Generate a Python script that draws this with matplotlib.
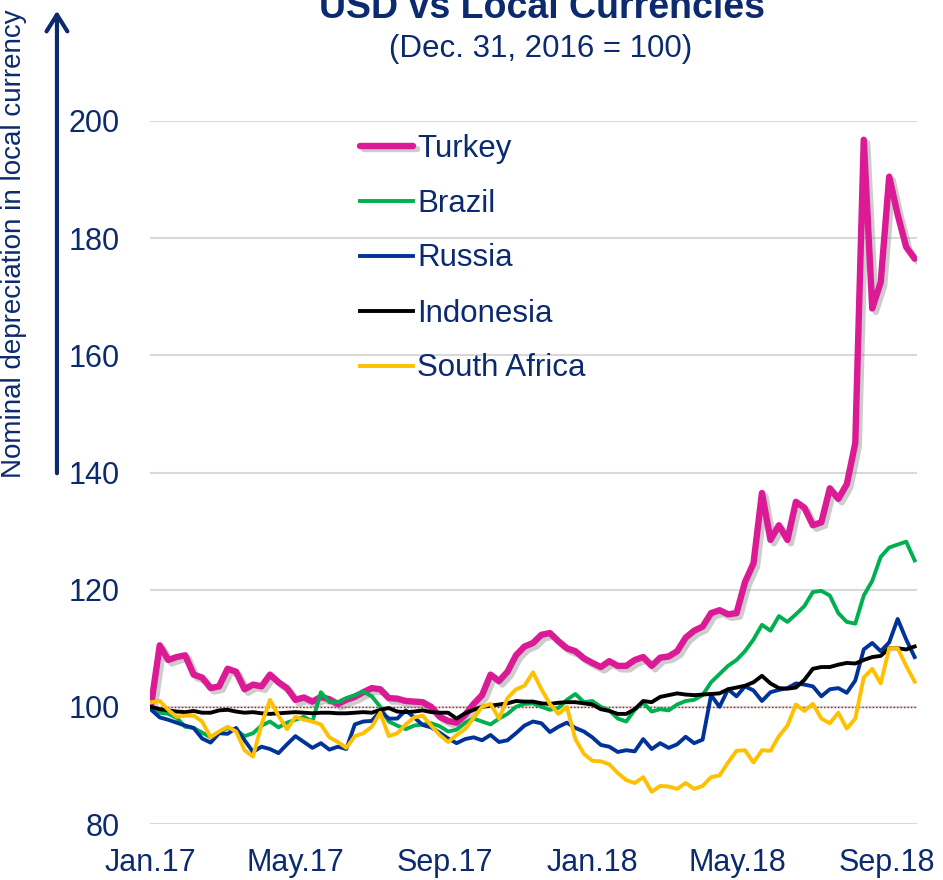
import matplotlib
matplotlib.use("Agg")
import matplotlib.pyplot as plt
import matplotlib.patheffects as pe
import pandas as pd

plt.rcParams['font.family'] = ['Liberation Sans', 'DejaVu Sans']

# weekly observations, Jan 2 2017 .. Sep 24 2018 (Dec. 31, 2016 = 100)
dates = pd.date_range("2017-01-02", periods=91, freq="7D")

turkey = [100.5, 110.5, 108.0, 108.5, 108.8, 105.5, 105.0, 103.2, 103.5, 106.5,
          106.0, 103.0, 103.8, 103.5, 105.5, 104.2, 103.2, 101.2, 101.6, 100.9,
          101.7, 101.3, 100.5, 101.2, 101.7, 102.5, 103.2, 103.0, 101.5, 101.4,
          101.0, 100.9, 100.8, 100.0, 98.3, 97.6, 97.3, 98.6, 100.5, 102.0,
          105.5, 104.4, 106.0, 108.8, 110.3, 110.9, 112.3, 112.6, 111.2, 110.0,
          109.5, 108.3, 107.5, 106.8, 107.8, 107.0, 107.0, 108.0, 108.5, 107.0,
          108.4, 108.6, 109.5, 111.8, 113.0, 113.7, 116.0, 116.5, 115.8, 116.0,
          121.3, 124.5, 136.5, 128.5, 131.0, 128.5, 135.0, 134.0, 131.0, 131.5,
          137.3, 135.5, 138.0, 145.0, 196.8, 168.0, 172.5, 190.5, 184.0, 178.5,
          176.5]
brazil = [100.0, 99.0, 98.8, 98.1, 96.6, 96.4, 95.6, 94.8, 95.7, 96.4,
          96.0, 95.0, 95.5, 96.8, 97.5, 96.5, 97.3, 97.8, 98.3, 97.5,
          102.5, 100.8, 100.8, 101.5, 102.0, 102.6, 101.8, 100.0, 97.5, 96.8,
          96.2, 96.8, 97.0, 97.2, 96.7, 95.8, 96.1, 97.3, 98.0, 97.5,
          97.0, 98.0, 98.8, 100.0, 100.5, 100.6, 100.0, 99.5, 99.8, 101.2,
          102.2, 100.8, 101.0, 100.0, 99.4, 98.0, 97.5, 99.5, 100.7, 99.2,
          99.6, 99.4, 100.4, 101.0, 101.2, 102.0, 104.2, 105.6, 107.0, 108.0,
          109.5, 111.5, 114.0, 113.0, 115.5, 114.5, 115.8, 117.2, 119.6, 119.8,
          119.0, 116.0, 114.5, 114.2, 119.0, 121.5, 125.6, 127.2, 127.7, 128.2,
          125.0]
russia = [99.5, 98.2, 97.8, 97.3, 96.8, 96.4, 94.6, 93.9, 95.5, 95.4,
          96.4, 94.3, 92.3, 93.2, 92.8, 92.1, 93.6, 95.0, 94.0, 93.0,
          93.8, 92.7, 93.2, 92.8, 97.0, 97.5, 97.6, 99.3, 98.0, 98.0,
          99.4, 98.2, 96.9, 96.5, 95.6, 94.6, 93.8, 94.5, 94.8, 94.3,
          95.2, 94.0, 94.3, 95.5, 96.8, 97.5, 97.2, 95.7, 96.6, 97.3,
          96.4, 95.8, 94.8, 93.5, 93.2, 92.3, 92.6, 92.4, 94.5, 92.8,
          93.8, 93.0, 93.6, 94.9, 93.8, 94.4, 102.0, 100.0, 103.0, 101.8,
          103.5, 102.8, 101.0, 102.5, 102.9, 103.2, 104.0, 103.8, 103.5, 101.8,
          103.0, 103.2, 102.4, 104.5, 109.8, 110.9, 109.5, 111.0, 115.0, 111.5,
          108.5]
indonesia = [100.0, 99.6, 99.4, 99.2, 99.1, 99.3, 99.0, 99.0, 99.4, 99.5,
             99.2, 99.0, 99.1, 98.9, 98.8, 98.9, 99.0, 99.1, 99.0, 98.9,
             99.0, 99.0, 98.9, 98.9, 99.0, 99.1, 99.0, 99.5, 99.8, 99.2,
             99.1, 99.2, 99.4, 99.1, 99.0, 99.0, 98.0, 98.9, 99.5, 100.0,
             100.2, 100.4, 100.6, 101.0, 100.9, 100.9, 100.6, 100.5, 100.7, 100.8,
             100.8, 100.6, 100.4, 99.6, 99.3, 98.8, 98.8, 99.6, 101.0, 100.8,
             101.7, 102.0, 102.3, 102.1, 102.0, 102.1, 102.2, 102.3, 103.0, 103.3,
             103.6, 104.2, 105.3, 104.0, 103.2, 103.1, 103.3, 104.6, 106.5, 106.8,
             106.8, 107.2, 107.5, 107.4, 108.0, 108.5, 108.7, 110.0, 110.0, 109.8,
             110.3]
south_africa = [100.8, 101.0, 99.5, 98.3, 98.5, 98.5, 97.5, 94.8, 95.8, 96.6,
                95.8, 92.6, 91.5, 97.0, 101.2, 98.5, 96.2, 98.3, 97.8, 97.5,
                97.0, 94.8, 94.0, 93.0, 95.0, 95.5, 96.6, 99.0, 95.0, 95.5,
                97.0, 98.2, 98.5, 96.8, 95.2, 94.0, 95.2, 96.2, 98.1, 100.0,
                100.5, 98.0, 101.5, 103.0, 103.6, 105.9, 103.0, 100.5, 98.8, 100.0,
                94.5, 92.0, 90.8, 90.7, 90.2, 88.7, 87.5, 87.0, 88.0, 85.5,
                86.5, 86.4, 86.0, 87.0, 86.0, 86.5, 88.0, 88.3, 90.5, 92.5,
                92.6, 90.5, 92.6, 92.5, 95.0, 96.8, 100.4, 99.3, 100.5, 98.0,
                97.2, 99.0, 96.3, 98.0, 105.0, 106.5, 104.0, 110.0, 110.0, 107.0,
                104.3]

tick_dates = pd.to_datetime(["2017-01-01", "2017-05-01", "2017-09-01",
                             "2018-01-01", "2018-05-01", "2018-09-01"])
tick_labels = ["Jan.17", "May.17", "Sep.17", "Jan.18", "May.18", "Sep.18"]
y_ticks = [80, 100, 120, 140, 160, 180, 200]

navy = "#0c2a6e"

fig = plt.figure(figsize=(9.43, 8.8), dpi=100)
ax = fig.add_axes([0.1591, 0.0636, 0.8134, 0.7989])

ax.axhline(100, color="#e00000", lw=1.0, ls=(0, (1, 1.5)), zorder=1)

ax.plot(dates, turkey, color="#dc1a96", lw=4.6, label="Turkey", zorder=3,
        solid_capstyle="round", solid_joinstyle="round",
        path_effects=[pe.SimpleLineShadow(offset=(2.5, -2.5), shadow_color="gray", alpha=0.4),
                      pe.Normal()])
ax.plot(dates, brazil, color="#00b050", lw=2.8, label="Brazil", zorder=4)
ax.plot(dates, russia, color="#003399", lw=2.8, label="Russia", zorder=5)
ax.plot(dates, indonesia, color="black", lw=2.8, label="Indonesia", zorder=6)
ax.plot(dates, south_africa, color="#ffc000", lw=2.8, label="South Africa", zorder=7)

ax.set_ylim(80, 200)
ax.set_xlim(pd.Timestamp("2017-01-01"), pd.Timestamp("2018-09-26"))
ax.set_yticks(y_ticks)
ax.set_xticks(tick_dates)
ax.set_xticklabels(tick_labels)
ax.grid(axis="y", color="#d9d9d9", lw=1.5, zorder=0)
ax.set_axisbelow(True)
for s in ax.spines.values():
    s.set_visible(False)
ax.tick_params(axis="both", length=0, labelsize=22, colors=navy)
ax.tick_params(axis="y", pad=22)
ax.tick_params(axis="x", pad=17)

leg = ax.legend(loc="upper left", bbox_to_anchor=(0.2575, 1.0), frameon=False,
                fontsize=22.5, labelcolor=navy, handlelength=1.7, handletextpad=0.12,
                labelspacing=0.80, borderaxespad=0.0)

fig.text(0.575, 1 - 18 / 880, "USD vs Local Currencies", ha="center", va="baseline",
         fontsize=27, fontweight="bold", color=navy)
fig.text(0.573, 1 - 57 / 880, "(Dec. 31, 2016 = 100)", ha="center", va="baseline",
         fontsize=22.5, color=navy)

fig.text(0.0148, 1 - 478 / 880, "Nominal depreciation in local currency", rotation=90,
         ha="center", va="bottom", fontsize=20, color=navy)
fig.patches.append(matplotlib.patches.FancyArrowPatch(
    (0.0604, 1 - 476 / 880), (0.0604, 1 - 8 / 880), transform=fig.transFigure,
    arrowstyle="->,head_length=8,head_width=5", lw=3, color=navy, mutation_scale=1.5))

plt.savefig("out.png", dpi=100)
